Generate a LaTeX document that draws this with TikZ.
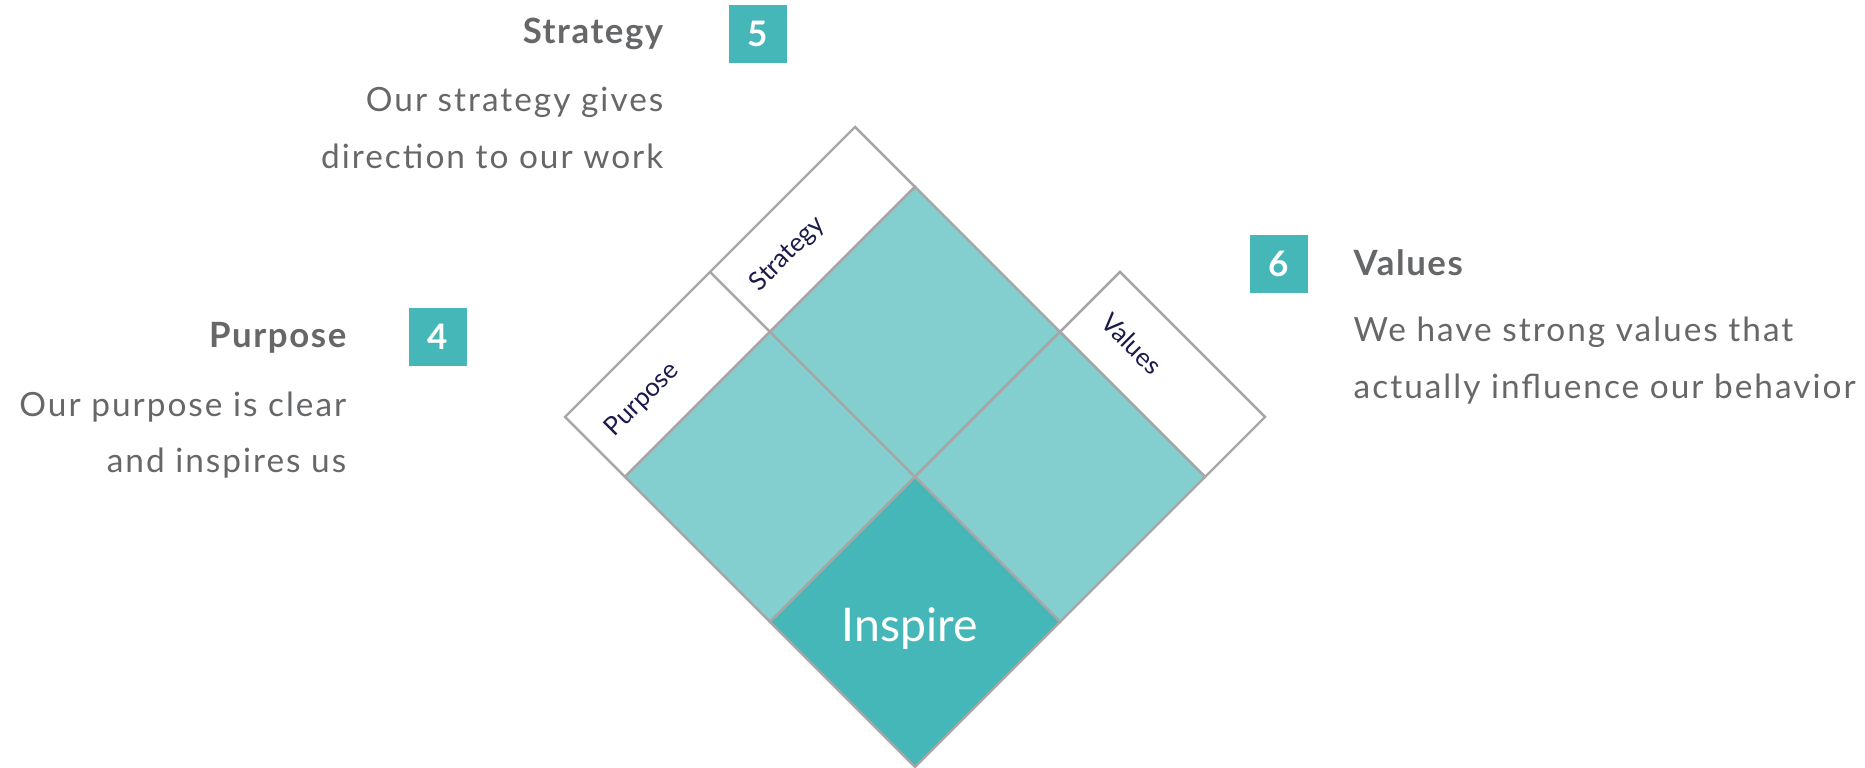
\documentclass[tikz,border=0pt]{standalone}
\usepackage{fontspec}
\setmainfont{Lato}
\newfontfamily\wideFont[LetterSpace=4.5]{Lato}
\newfontfamily\bodyFace[LetterSpace=6]{Lato}
\usetikzlibrary{positioning}
\definecolor{tealDark}{HTML}{45B7B8}
\definecolor{tealLight}{HTML}{83CFCF}
\definecolor{edgeGray}{HTML}{A6A6A6}
\definecolor{textGray}{HTML}{666769}
\definecolor{navyInk}{HTML}{1B1B4B}
\begin{document}
\begin{tikzpicture}[x=0.1mm,y=0.1mm]
    \newcommand{\headFont}{\wideFont\fontsize{9.9}{12}\selectfont\bfseries}
    \newcommand{\bodyFont}{\bodyFace\fontsize{9.5}{12}\selectfont}
    \newcommand{\sideLen}{205.06}
    \newcommand{\stripW}{84.85}
  \tikzset{
    numbox/.style={fill=tealDark, text=white, minimum size=5.8mm, inner sep=0pt,
      font=\fontsize{10}{10}\selectfont\bfseries},
    head/.style={text=textGray, font=\headFont, inner sep=0pt},
    body/.style={text=textGray, font=\bodyFont, inner sep=0pt},
    cell/.style={draw=edgeGray, line width=0.7pt, line join=miter},
    tag/.style={text=navyInk, font=\fontsize{7.3}{8}\selectfont, inner sep=0pt}
  }
  \useasboundingbox (0,0) rectangle (1865,768);
  % the diamond, drawn in a turned frame
  \begin{scope}[shift={(915,291)}, rotate=45]
    \filldraw[cell, fill=white] (-\sideLen,\sideLen) -- (\sideLen,\sideLen)
      -- (\sideLen,\sideLen+\stripW) -- (-\sideLen,\sideLen+\stripW) -- cycle;
    \draw[cell] (0,\sideLen) -- (0,\sideLen+\stripW);
    \filldraw[cell, fill=white] (\sideLen,0) -- (\sideLen+\stripW,0)
      -- (\sideLen+\stripW,-\sideLen) -- (\sideLen,-\sideLen) -- cycle;
    \filldraw[cell, fill=tealLight] (-\sideLen,0) -- (0,0) -- (0,\sideLen) -- (-\sideLen,\sideLen) -- cycle;
    \filldraw[cell, fill=tealLight] (0,0) -- (\sideLen,0) -- (\sideLen,\sideLen) -- (0,\sideLen) -- cycle;
    \filldraw[cell, fill=tealLight] (0,0) -- (\sideLen,0) -- (\sideLen,-\sideLen) -- (0,-\sideLen) -- cycle;
    \filldraw[cell, fill=tealDark] (0,0) -- (-\sideLen,0) -- (-\sideLen,-\sideLen) -- (0,-\sideLen) -- cycle;
    \node[tag, anchor=west, rotate=45] (purposeTag) at (-\sideLen+20,\sideLen+\stripW/2) {Purpose};
    \node[tag, anchor=west, rotate=45] (strategyTag) at (20,\sideLen+\stripW/2) {Strategy};
    \node[tag, anchor=west, rotate=-45] (valuesTag) at (\sideLen+\stripW/2,-22) {Values};
  \end{scope}
  \node[text=white, font=\fontsize{13.2}{14}\selectfont, anchor=base] (inspireTag) at (910,126) {Inspire};

  % numbered boxes
  \node[numbox] (boxFive) at (758,734) {5};
  \node[numbox] (boxFour) at (438,431) {4};
  \node[numbox] (boxSix) at (1279,504) {6};

  % strategy
  \node[head, anchor=base east] (strategyHead) at (664,724) {Strategy};
  \node[body, anchor=base east] (strategyOne) at (664,656) {Our strategy gives};
  \node[body, anchor=base east] (strategyTwo) at (664,599) {direction to our work};
  % purpose
  \node[head, anchor=base east] (purposeHead) at (347,420) {Purpose};
  \node[body, anchor=base east] (purposeOne) at (347,351) {Our purpose is clear};
  \node[body, anchor=base east] (purposeTwo) at (347,295) {and inspires us};
  % values
  \node[head, anchor=base west] (valuesHead) at (1353,492) {Values};
  \node[body, anchor=base west] (valuesOne) at (1353,426) {We have strong values that};
  \node[body, anchor=base west] (valuesTwo) at (1353,369) {actually influence our behavior};
\end{tikzpicture}
\end{document}
